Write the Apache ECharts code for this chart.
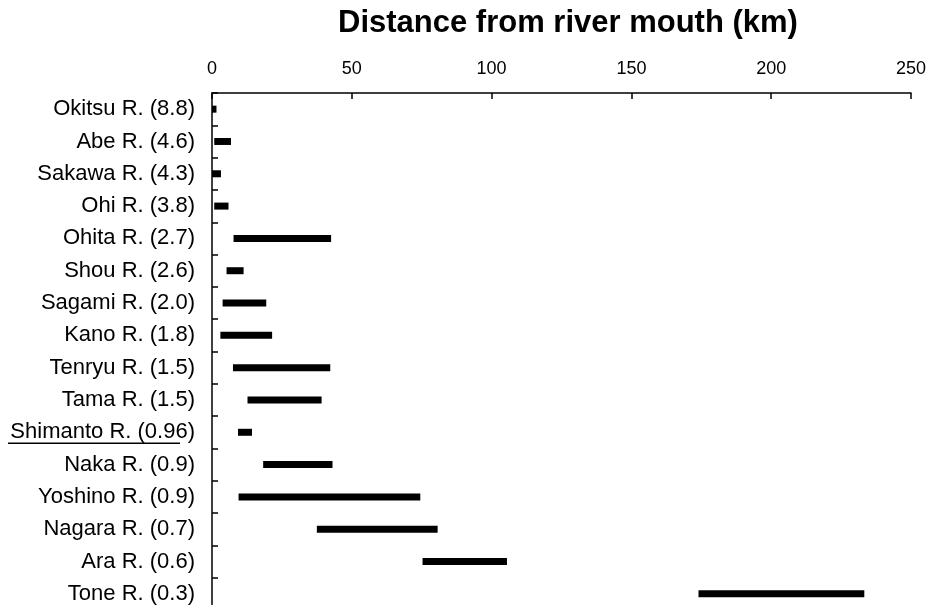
<!DOCTYPE html>
<html>
<head>
<meta charset="utf-8">
<script src="https://cdn.jsdelivr.net/npm/echarts@6/dist/echarts.min.js"></script>
<style>
  html, body { margin: 0; padding: 0; background: #fff; overflow: hidden; }
  /* the plot runs a few pixels past the lower edge of the window */
  #chart { width: 932px; height: 610px; }
</style>
</head>
<body>
<div id="chart"></div>
<script>
// Rivers, top to bottom, with the figure in brackets after each name
const rivers = [
  'Okitsu R. (8.8)', 'Abe R. (4.6)', 'Sakawa R. (4.3)', 'Ohi R. (3.8)',
  'Ohita R. (2.7)', 'Shou R. (2.6)', 'Sagami R. (2.0)', 'Kano R. (1.8)',
  'Tenryu R. (1.5)', 'Tama R. (1.5)', 'Shimanto R. (0.96)', 'Naka R. (0.9)',
  'Yoshino R. (0.9)', 'Nagara R. (0.7)', 'Ara R. (0.6)', 'Tone R. (0.3)'
];
// Lower end of each reach (km from the river mouth)
const startKm = [0, 0.8, 0, 0.8, 7.7, 5.2, 3.8, 3.0, 7.5, 12.7, 9.3, 18.3, 9.5, 37.5, 75.3, 174.0];
// Upper end of each reach (km from the river mouth)
const endKm = [1.6, 6.8, 3.2, 5.9, 42.6, 11.3, 19.4, 21.5, 42.3, 39.2, 14.3, 43.1, 74.5, 80.7, 105.5, 233.3];
// Distance axis ticks
const xTicks = [0, 50, 100, 150, 200, 250];
const highlighted = 'Shimanto R. (0.96)';

const spanKm = endKm.map((e, i) => +(e - startKm[i]).toFixed(2));

const chart = echarts.init(document.getElementById('chart'), null, { renderer: 'canvas' });
const FONT = 'Arial, "Liberation Sans", Helvetica, sans-serif';

chart.setOption({
  animation: false,
  backgroundColor: '#fff',
  textStyle: { fontFamily: FONT, color: '#000' },
  title: {
    text: 'Distance from river mouth (km)',
    left: 333,
    top: 3,
    textStyle: { fontFamily: FONT, fontWeight: 'bold', fontSize: 31, color: '#000' }
  },
  grid: { left: 212, right: 21, top: 93, bottom: 0 },
  xAxis: {
    type: 'value',
    position: 'top',
    min: xTicks[0],
    max: xTicks[xTicks.length - 1],
    interval: xTicks[1] - xTicks[0],
    axisLine: { show: true, onZero: false, lineStyle: { color: '#000', width: 1.5 } },
    axisTick: { show: true, inside: true, length: 6, lineStyle: { color: '#000', width: 1.5 } },
    splitLine: { show: false },
    axisLabel: { color: '#000', fontSize: 18, fontFamily: FONT, margin: 15 }
  },
  yAxis: {
    type: 'category',
    inverse: true,
    data: rivers,
    axisLine: { show: true, lineStyle: { color: '#000', width: 1.5 } },
    axisTick: { show: true, inside: true, length: 6, lineStyle: { color: '#000', width: 1.5 } },
    splitLine: { show: false },
    axisLabel: { color: '#000', fontSize: 22, fontFamily: FONT, margin: 17 }
  },
  series: [
    {
      name: 'offset',
      type: 'bar',
      stack: 'reach',
      silent: true,
      barWidth: 7,
      itemStyle: { color: 'rgba(0,0,0,0)' },
      data: startKm
    },
    {
      name: 'reach',
      type: 'bar',
      stack: 'reach',
      barWidth: 7,
      itemStyle: { color: '#000' },
      data: spanKm
    }
  ]
});

// Underline beneath the highlighted river name
const yMid = chart.convertToPixel({ yAxisIndex: 0 }, highlighted);
chart.setOption({
  graphic: [{
    type: 'line',
    shape: { x1: 8, y1: yMid + 11, x2: 180, y2: yMid + 11 },
    style: { stroke: '#000', lineWidth: 1.5 },
    silent: true
  }]
});
</script>
</body>
</html>
